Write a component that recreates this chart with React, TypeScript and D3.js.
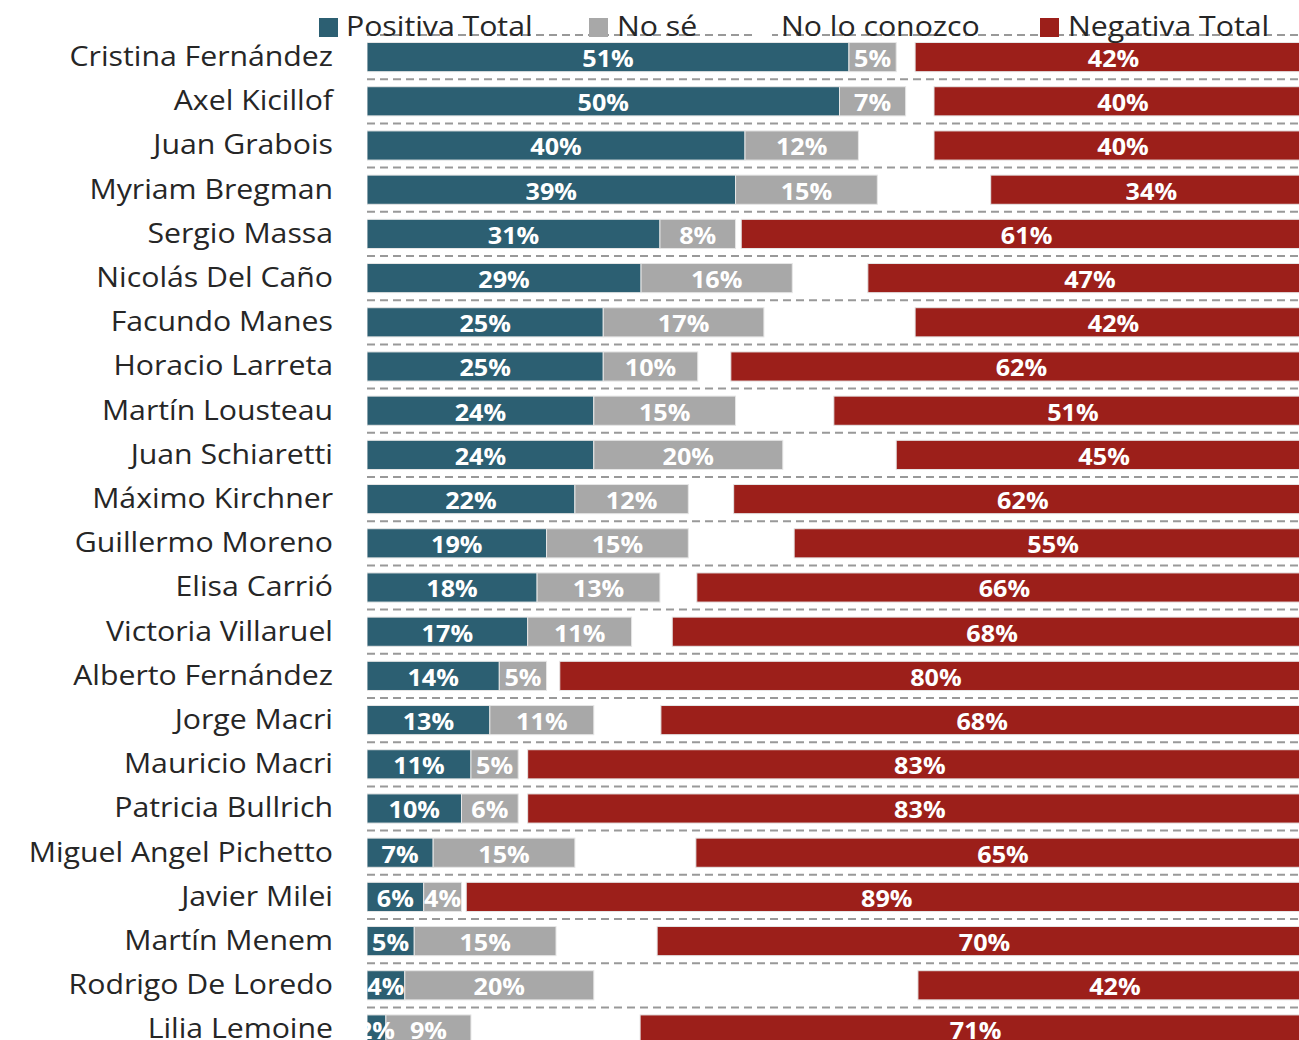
import React from "react";
import * as d3 from "d3";

const names = [
  "Cristina Fernández", "Axel Kicillof", "Juan Grabois", "Myriam Bregman", "Sergio Massa",
  "Nicolás Del Caño", "Facundo Manes", "Horacio Larreta", "Martín Lousteau", "Juan Schiaretti",
  "Máximo Kirchner", "Guillermo Moreno", "Elisa Carrió", "Victoria Villaruel", "Alberto Fernández",
  "Jorge Macri", "Mauricio Macri", "Patricia Bullrich", "Miguel Angel Pichetto", "Javier Milei",
  "Martín Menem", "Rodrigo De Loredo", "Lilia Lemoine",
];
const positiva = [51, 50, 40, 39, 31, 29, 25, 25, 24, 24, 22, 19, 18, 17, 14, 13, 11, 10, 7, 6, 5, 4, 2];
const noSe = [5, 7, 12, 15, 8, 16, 17, 10, 15, 20, 12, 15, 13, 11, 5, 11, 5, 6, 15, 4, 15, 20, 9];
const noConozco = [2, 3, 8, 12, 0.6, 8, 16, 3.5, 10.4, 12, 4.8, 11.2, 3.9, 4.3, 1.4, 7.1, 1, 1, 12.8, 0.5, 10.7, 34.3, 17.9];
const negativa = [42, 40, 40, 34, 61, 47, 42, 62, 51, 45, 62, 55, 66, 68, 80, 68, 83, 83, 65, 89, 70, 42, 71];

const seriesNames = ["Positiva Total", "No sé", "No lo conozco", "Negativa Total"];
const seriesColors = ["#2c5f72", "#a8a8a8", "#ffffff", "#9c1f1a"];

const W = 1299;
const H = 1040;

export default function App() {
  const x = d3.scaleLinear().domain([0, 100]).range([367, 1312]);
  const y = d3
    .scaleBand<string>()
    .domain(names)
    .range([35, 35 + 44.2 * names.length])
    .paddingInner(0.34)
    .paddingOuter(0.17);
  const step = y.step();

  const rows = names.map((n, i) => ({
    name: n,
    vals: [positiva[i], noSe[i], noConozco[i], negativa[i]],
  }));
  const stack = d3
    .stack<any>()
    .keys([0, 1, 2, 3] as any)
    .value((d: any, k: any) => d.vals[k]);
  const stacked = stack(rows as any);

  const legendItems = [
    { sq: 319, tx: 346 },
    { sq: 589, tx: 617 },
    { sq: 753, tx: 781 },
    { sq: 1040, tx: 1068 },
  ];

  const font = "'Open Sans', 'Noto Sans', sans-serif";
  const sx = 1.08;

  return (
    <svg
      width={W}
      height={H}
      style={{ position: "absolute", left: 0, top: 0, background: "#fff" }}
      fontFamily={font}
    >
      <defs>
        <clipPath id="plot">
          <rect x={367} y={0} width={W - 367} height={H} />
        </clipPath>
      </defs>
      {/* dashed separators */}
      {d3.range(names.length).map((i) => (
        <line
          key={"g" + i}
          x1={367}
          x2={W}
          y1={35 + step * i}
          y2={35 + step * i}
          stroke="#999999"
          strokeWidth={2}
          strokeDasharray="8,5"
        />
      ))}
      {/* bars */}
      <g clipPath="url(#plot)">
        {stacked.map((s, si) =>
          si === 2
            ? null
            : s.map((d: any, i: number) => (
                <rect
                  key={si + "-" + i}
                  x={x(d[0])}
                  y={y(names[i])}
                  width={x(d[1]) - x(d[0])}
                  height={y.bandwidth()}
                  fill={seriesColors[si]}
                  stroke="#e6e6e6"
                  strokeWidth={1}
                />
              ))
        )}
        {stacked.map((s, si) =>
          si === 2
            ? null
            : s.map((d: any, i: number) => (
                <text
                  key={"t" + si + "-" + i}
                  transform={`translate(${(x(d[0]) + Math.min(x(d[1]), 1312)) / 2},${(y(names[i]) as number) + 24.5}) scale(1.05,1)`}
                  textAnchor="middle"
                  fill="#ffffff"
                  fontSize={24}
                  fontWeight={700}
                >
                  {d3.format(".0f")(d[1] - d[0]) + "%"}
                </text>
              ))
        )}
      </g>
      {/* category labels */}
      {names.map((n) => (
        <text
          key={"l" + n}
          transform={`translate(333,${(y(n) as number) + 23.5}) scale(${sx},1)`}
          textAnchor="end"
          fill="#262626"
          fontSize={28}
        >
          {n}
        </text>
      ))}
      {/* legend */}
      {seriesNames.map((s, i) => (
        <g key={"lg" + i}>
          <rect x={legendItems[i].sq} y={18} width={19} height={19} fill={seriesColors[i]} />
          <text
            transform={`translate(${legendItems[i].tx},36) scale(${sx},1)`}
            fill="#262626"
            fontSize={28}
          >
            {s}
          </text>
        </g>
      ))}
    </svg>
  );
}
